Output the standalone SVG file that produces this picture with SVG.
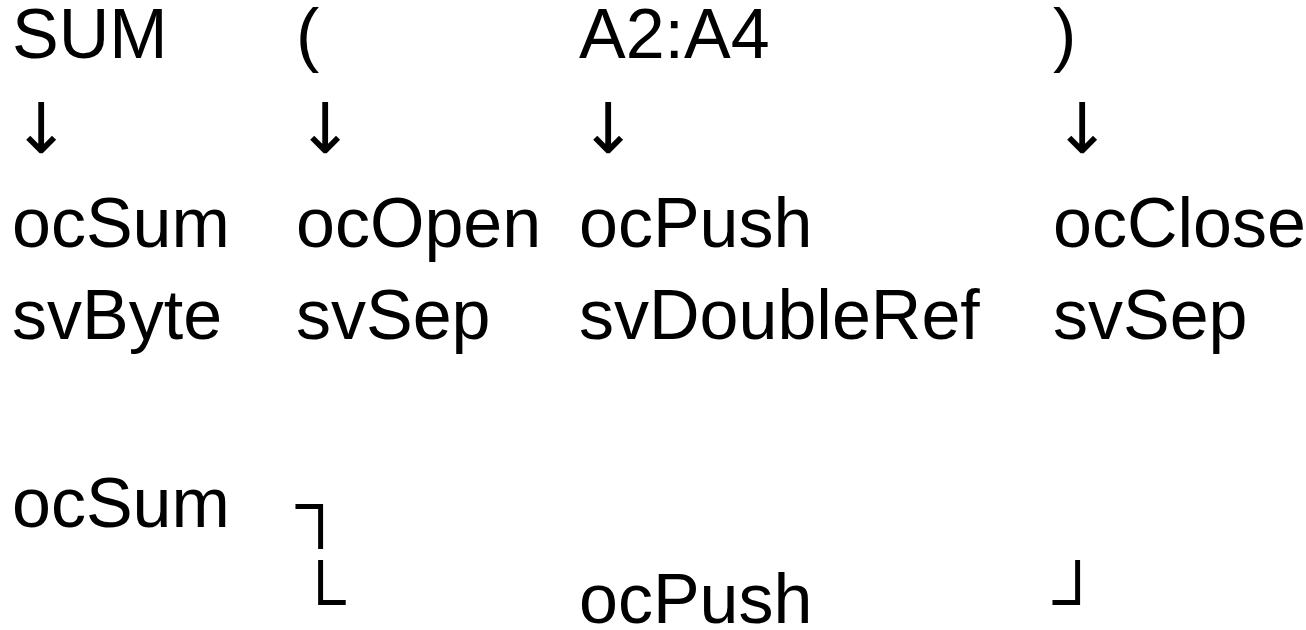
<svg xmlns="http://www.w3.org/2000/svg" width="1306" height="630" viewBox="0 0 1306 630">
<style>
text { font-family: "Liberation Sans", Arial, sans-serif; font-size: 70px; fill: #000; }
text.arr { font-family: "DejaVu Sans", sans-serif; }
</style>
<rect width="1306" height="630" fill="#fff"/>
<g id="col1">
<text x="12" y="58">SUM</text>
<text class="arr" x="12" y="153">↓</text>
<text x="12" y="247">ocSum</text>
<text x="12" y="339">svByte</text>
<text x="12" y="527">ocSum</text>
</g>
<g id="col2">
<text x="296" y="58">(</text>
<text class="arr" x="296" y="153">↓</text>
<text x="296" y="247">ocOpen</text>
<text x="296" y="339">svSep</text>
<text x="296" y="528">┐</text>
<text x="296" y="624">└</text>
</g>
<g id="col3">
<text x="579" y="58">A2:A4</text>
<text class="arr" x="579" y="153">↓</text>
<text x="579" y="247">ocPush</text>
<text x="579" y="339">svDoubleRef</text>
<text x="579" y="623">ocPush</text>
</g>
<g id="col4">
<text x="1053" y="58">)</text>
<text class="arr" x="1053" y="153">↓</text>
<text x="1053" y="247">ocClose</text>
<text x="1053" y="339">svSep</text>
<text x="1053" y="624">┘</text>
</g>
<g id="connectors"></g>
</svg>
